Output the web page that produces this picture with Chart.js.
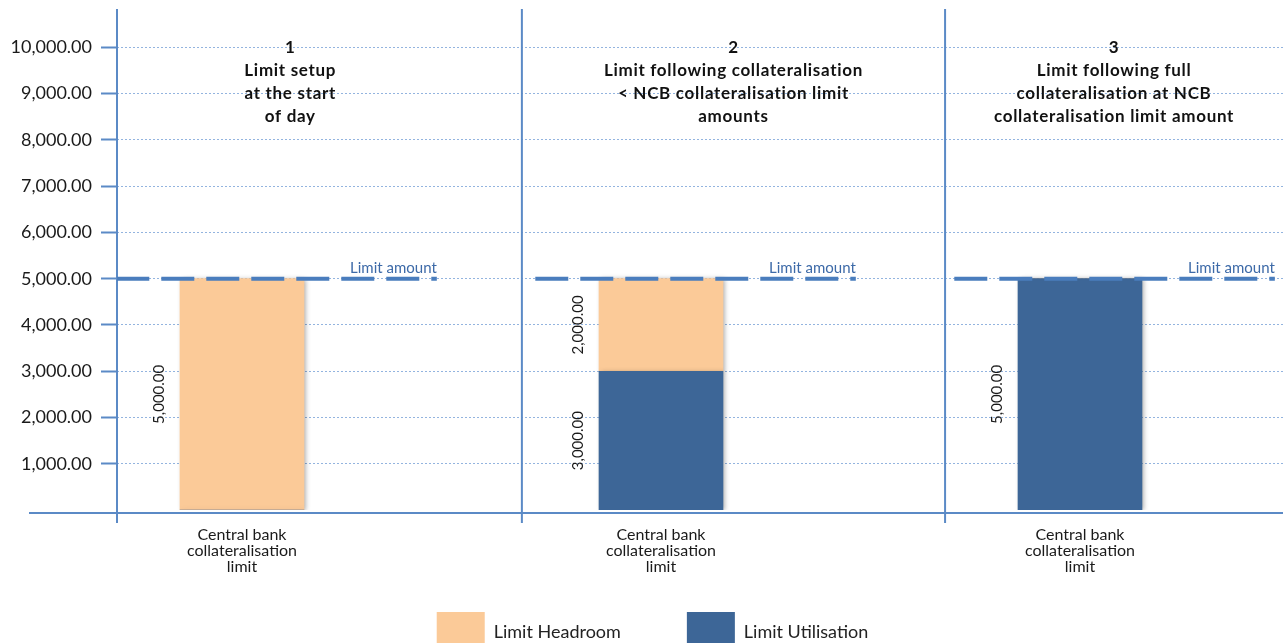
<!DOCTYPE html>
<html>
<head>
<meta charset="utf-8">
<script src="https://cdn.jsdelivr.net/npm/chart.js@4/dist/chart.umd.min.js"></script>
<style>
html,body{margin:0;padding:0;background:#fff;overflow:hidden}
#wrap{width:1283px;height:670px}
</style>
</head>
<body>
<div id="wrap"><canvas id="c" width="1283" height="670"></canvas></div>
<script>
// ---- data ----
const categories = [
  ["Central bank", "collateralisation", "limit"],
  ["Central bank", "collateralisation", "limit"],
  ["Central bank", "collateralisation", "limit"]
];
const categoryPositions = [1, 2, 3];
const limitHeadroom = [5000, 2000, 0];
const limitUtilisation = [0, 3000, 5000];
const limitAmount = [5000, 5000, 5000];
const yTickValues = [1000, 2000, 3000, 4000, 5000, 6000, 7000, 8000, 9000, 10000];
const panelTitles = [
  ["1", "Limit setup", "at the start", "of day"],
  ["2", "Limit following collateralisation", "< NCB collateralisation limit", "amounts"],
  ["3", "Limit following full", "collateralisation at NCB", "collateralisation limit amount"]
];
const seriesNames = ["Limit Headroom", "Limit Utilisation"];
const limitLabel = "Limit amount";

// ---- style / layout ----
const FONT = "Lato";
const HEADROOM = "#fbca98";
const UTIL = "#3d6697";
const AXIS = "#5b8ac6";
const GRID = "#93b4df";
const LIMIT = "#4a7dbd";
const X_MIN = 0.7017, X_MAX = 3.4845;
const dividers = [1.668, 2.678];
const panelEdges = [0.5625, 1.668, 2.678, 3.4845];
const LINE_FROM = -0.3, LINE_TO = 0.465;

const fmt = v => v.toLocaleString("en-US", {minimumFractionDigits: 2, maximumFractionDigits: 2});

const limitData = [];
categoryPositions.forEach((c, i) => {
  limitData.push({x: c + LINE_FROM, y: limitAmount[i]});
  limitData.push({x: c + LINE_TO, y: limitAmount[i]});
  limitData.push({x: c + 0.5, y: null});
});

const deco = {
  id: "deco",
  afterLayout(chart) {
    const s = chart.scales.x;
    s.bottom = s.top + 75;           // let the 3-line category labels show
    const lg = chart.legend;
    if (lg) { lg.left += 11; lg.right += 11; }
  },
  beforeDatasetsDraw(chart) {
    const {ctx, chartArea: a, scales: {x, y}} = chart;
    const y0 = y.getPixelForValue(0);
    ctx.save();
    ctx.strokeStyle = AXIS;
    ctx.lineWidth = 2;
    ctx.beginPath();
    ctx.moveTo(a.left - 88, y0 + 3);
    ctx.lineTo(a.right, y0 + 3);
    [a.left, ...dividers.map(v => x.getPixelForValue(v))].forEach(px => {
      ctx.moveTo(px, a.top);
      ctx.lineTo(px, y0 + 13);
    });
    ctx.stroke();
    ctx.restore();
  },
  beforeDatasetDraw(chart, args) {
    if (args.meta.type === "bar") {
      const ctx = chart.ctx;
      ctx.save();
      ctx.shadowColor = "rgba(0,0,0,0.35)";
      ctx.shadowBlur = 5;
      ctx.shadowOffsetX = 2;
      ctx.shadowOffsetY = 1;
    }
  },
  afterDatasetDraw(chart, args) {
    if (args.meta.type === "bar") chart.ctx.restore();
  },
  afterDatasetsDraw(chart) {
    const {ctx, chartArea: a, scales: {x, y}} = chart;
    ctx.save();
    // value labels
    ctx.fillStyle = "#1a1a1a";
    ctx.font = "15px " + FONT;
    ctx.textAlign = "center";
    ctx.textBaseline = "middle";
    chart.data.datasets.forEach((ds, di) => {
      const meta = chart.getDatasetMeta(di);
      if (meta.type !== "bar") return;
      meta.data.forEach((el, i) => {
        const v = ds.data[i].y;
        if (!v) return;
        const p = el.getProps(["x", "y", "base", "width"], true);
        ctx.save();
        ctx.translate(p.x - p.width / 2 - 21, (p.y + p.base) / 2);
        ctx.rotate(-Math.PI / 2);
        ctx.fillText(fmt(v), 0, 0);
        ctx.restore();
      });
    });
    // limit labels
    ctx.fillStyle = "#3d6aa8";
    ctx.font = "15px " + FONT;
    ctx.textAlign = "right";
    ctx.textBaseline = "alphabetic";
    categoryPositions.forEach((c, i) => {
      ctx.fillText(limitLabel, x.getPixelForValue(c + LINE_TO), y.getPixelForValue(limitAmount[i]) - 6);
    });
    // panel titles
    ctx.fillStyle = "#111";
    ctx.font = "bold 17px " + FONT;
    try { ctx.letterSpacing = "0.7px"; } catch (e) {}
    ctx.textAlign = "center";
    ctx.textBaseline = "middle";
    panelTitles.forEach((lines, p) => {
      const cx = (x.getPixelForValue(panelEdges[p]) + x.getPixelForValue(panelEdges[p + 1])) / 2;
      lines.forEach((t, li) => ctx.fillText(t, cx, a.top + 39 + li * 23));
    });
    try { ctx.letterSpacing = "0px"; } catch (e) {}
    ctx.restore();
  }
};

Chart.defaults.font.family = FONT;
Chart.defaults.color = "#222";

new Chart(document.getElementById("c"), {
  type: "bar",
  data: {
    datasets: [
      {
        label: seriesNames[1],
        data: limitUtilisation.map((v, i) => ({x: categoryPositions[i], y: v})),
        backgroundColor: UTIL,
        borderWidth: 0,
        barThickness: 124
      },
      {
        label: seriesNames[0],
        data: limitHeadroom.map((v, i) => ({x: categoryPositions[i], y: v})),
        backgroundColor: HEADROOM,
        borderWidth: 0,
        barThickness: 124
      },
      {
        type: "line",
        label: limitLabel,
        data: limitData,
        borderColor: LIMIT,
        borderWidth: 4,
        borderDash: [33, 12],
        pointRadius: 0,
        spanGaps: false,
        order: -1
      }
    ]
  },
  options: {
    responsive: false,
    animation: false,
    devicePixelRatio: 1,
    layout: {padding: {top: 9, left: 0, right: 0, bottom: 8}},
    plugins: {
      tooltip: {enabled: false},
      legend: {
        position: "bottom",
        reverse: true,
        labels: {
          boxWidth: 48,
          boxHeight: 40,
          padding: 66,
          font: {size: 18, family: FONT},
          color: "#222",
          filter: item => item.text !== limitLabel
        }
      }
    },
    scales: {
      x: {
        type: "linear",
        min: X_MIN,
        max: X_MAX,
        offset: false,
        stacked: true,
        grid: {display: false, drawTicks: false},
        border: {display: false},
        afterBuildTicks: s => { s.ticks = categoryPositions.map(v => ({value: v})); },
        afterFit: s => { s.height = 36; s.paddingLeft = 0; s.paddingRight = 0; },
        ticks: {
          autoSkip: false,
          maxRotation: 0,
          padding: 17,
          font: {size: 16, family: FONT, lineHeight: 1.0},
          color: "#1a1a1a",
          callback: (v) => categories[categoryPositions.indexOf(v)] || ""
        }
      },
      y: {
        min: 0,
        max: 10830,
        stacked: true,
        afterBuildTicks: s => { s.ticks = yTickValues.map(v => ({value: v})); },
        afterFit: s => { s.width = 117; s.paddingTop = 0; s.paddingBottom = 0; },
        grid: {
          color: GRID,
          lineWidth: 1,
          tickLength: 16,
          tickWidth: 2,
          tickColor: AXIS,
          tickBorderDash: []
        },
        border: {display: false, dash: [2, 2]},
        ticks: {
          padding: 9,
          font: {size: 18, family: FONT},
          color: "#1a1a1a",
          callback: v => fmt(v)
        }
      }
    }
  },
  plugins: [deco]
});
</script>
</body>
</html>
